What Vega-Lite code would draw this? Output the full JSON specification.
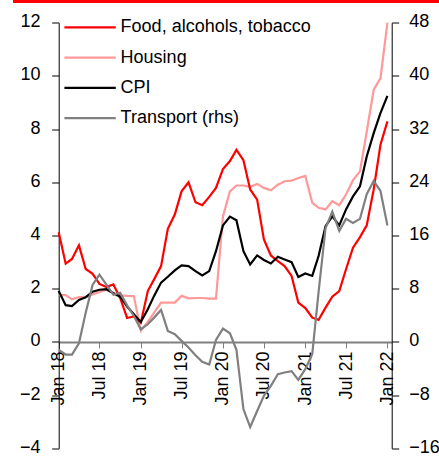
{
  "$schema": "https://vega.github.io/schema/vega-lite/v6.json",
  "autosize": "none",
  "padding": {"left": 13, "top": 1.5, "right": 0, "bottom": 8.7},
  "width": 426,
  "height": 446.8,
  "config": {
    "view": {"stroke": "#ff0000", "strokeWidth": 3, "strokeDash": [426, 5000], "fill": null},
    "font": "Liberation Sans",
    "axis": {"labelFont": "Liberation Sans", "labelColor": "#000000", "labelFontSize": 18}
  },
  "data": {"values": [
    {"date": "2018-01-01", "series": "Food, alcohols, tobacco", "value": 4.12},
    {"date": "2018-02-01", "series": "Food, alcohols, tobacco", "value": 2.94},
    {"date": "2018-03-01", "series": "Food, alcohols, tobacco", "value": 3.12},
    {"date": "2018-04-01", "series": "Food, alcohols, tobacco", "value": 3.63},
    {"date": "2018-05-01", "series": "Food, alcohols, tobacco", "value": 2.74},
    {"date": "2018-06-01", "series": "Food, alcohols, tobacco", "value": 2.56},
    {"date": "2018-07-01", "series": "Food, alcohols, tobacco", "value": 2.18},
    {"date": "2018-08-01", "series": "Food, alcohols, tobacco", "value": 2.06},
    {"date": "2018-09-01", "series": "Food, alcohols, tobacco", "value": 2.16},
    {"date": "2018-10-01", "series": "Food, alcohols, tobacco", "value": 1.65},
    {"date": "2018-11-01", "series": "Food, alcohols, tobacco", "value": 0.9},
    {"date": "2018-12-01", "series": "Food, alcohols, tobacco", "value": 0.96},
    {"date": "2019-01-01", "series": "Food, alcohols, tobacco", "value": 0.72},
    {"date": "2019-02-01", "series": "Food, alcohols, tobacco", "value": 1.91},
    {"date": "2019-03-01", "series": "Food, alcohols, tobacco", "value": 2.35},
    {"date": "2019-04-01", "series": "Food, alcohols, tobacco", "value": 2.85},
    {"date": "2019-05-01", "series": "Food, alcohols, tobacco", "value": 4.25},
    {"date": "2019-06-01", "series": "Food, alcohols, tobacco", "value": 4.79},
    {"date": "2019-07-01", "series": "Food, alcohols, tobacco", "value": 5.66},
    {"date": "2019-08-01", "series": "Food, alcohols, tobacco", "value": 6.0},
    {"date": "2019-09-01", "series": "Food, alcohols, tobacco", "value": 5.25},
    {"date": "2019-10-01", "series": "Food, alcohols, tobacco", "value": 5.14},
    {"date": "2019-11-01", "series": "Food, alcohols, tobacco", "value": 5.45},
    {"date": "2019-12-01", "series": "Food, alcohols, tobacco", "value": 5.79},
    {"date": "2020-01-01", "series": "Food, alcohols, tobacco", "value": 6.5},
    {"date": "2020-02-01", "series": "Food, alcohols, tobacco", "value": 6.8},
    {"date": "2020-03-01", "series": "Food, alcohols, tobacco", "value": 7.22},
    {"date": "2020-04-01", "series": "Food, alcohols, tobacco", "value": 6.83},
    {"date": "2020-05-01", "series": "Food, alcohols, tobacco", "value": 5.73},
    {"date": "2020-06-01", "series": "Food, alcohols, tobacco", "value": 5.35},
    {"date": "2020-07-01", "series": "Food, alcohols, tobacco", "value": 3.85},
    {"date": "2020-08-01", "series": "Food, alcohols, tobacco", "value": 3.25},
    {"date": "2020-09-01", "series": "Food, alcohols, tobacco", "value": 3.04},
    {"date": "2020-10-01", "series": "Food, alcohols, tobacco", "value": 2.85},
    {"date": "2020-11-01", "series": "Food, alcohols, tobacco", "value": 2.48},
    {"date": "2020-12-01", "series": "Food, alcohols, tobacco", "value": 1.48},
    {"date": "2021-01-01", "series": "Food, alcohols, tobacco", "value": 1.27},
    {"date": "2021-02-01", "series": "Food, alcohols, tobacco", "value": 0.91},
    {"date": "2021-03-01", "series": "Food, alcohols, tobacco", "value": 0.83},
    {"date": "2021-04-01", "series": "Food, alcohols, tobacco", "value": 1.29},
    {"date": "2021-05-01", "series": "Food, alcohols, tobacco", "value": 1.7},
    {"date": "2021-06-01", "series": "Food, alcohols, tobacco", "value": 1.91},
    {"date": "2021-07-01", "series": "Food, alcohols, tobacco", "value": 2.73},
    {"date": "2021-08-01", "series": "Food, alcohols, tobacco", "value": 3.54},
    {"date": "2021-09-01", "series": "Food, alcohols, tobacco", "value": 3.94},
    {"date": "2021-10-01", "series": "Food, alcohols, tobacco", "value": 4.38},
    {"date": "2021-11-01", "series": "Food, alcohols, tobacco", "value": 5.73},
    {"date": "2021-12-01", "series": "Food, alcohols, tobacco", "value": 7.41},
    {"date": "2022-01-01", "series": "Food, alcohols, tobacco", "value": 8.29},
    {"date": "2018-01-01", "series": "Housing", "value": 1.76},
    {"date": "2018-02-01", "series": "Housing", "value": 1.76},
    {"date": "2018-03-01", "series": "Housing", "value": 1.6},
    {"date": "2018-04-01", "series": "Housing", "value": 1.68},
    {"date": "2018-05-01", "series": "Housing", "value": 1.68},
    {"date": "2018-06-01", "series": "Housing", "value": 1.78},
    {"date": "2018-07-01", "series": "Housing", "value": 1.88},
    {"date": "2018-08-01", "series": "Housing", "value": 1.96},
    {"date": "2018-09-01", "series": "Housing", "value": 1.85},
    {"date": "2018-10-01", "series": "Housing", "value": 1.75},
    {"date": "2018-11-01", "series": "Housing", "value": 1.73},
    {"date": "2018-12-01", "series": "Housing", "value": 1.72},
    {"date": "2019-01-01", "series": "Housing", "value": 0.42},
    {"date": "2019-02-01", "series": "Housing", "value": 0.75},
    {"date": "2019-03-01", "series": "Housing", "value": 1.1},
    {"date": "2019-04-01", "series": "Housing", "value": 1.48},
    {"date": "2019-05-01", "series": "Housing", "value": 1.48},
    {"date": "2019-06-01", "series": "Housing", "value": 1.48},
    {"date": "2019-07-01", "series": "Housing", "value": 1.73},
    {"date": "2019-08-01", "series": "Housing", "value": 1.64},
    {"date": "2019-09-01", "series": "Housing", "value": 1.65},
    {"date": "2019-10-01", "series": "Housing", "value": 1.65},
    {"date": "2019-11-01", "series": "Housing", "value": 1.63},
    {"date": "2019-12-01", "series": "Housing", "value": 1.63},
    {"date": "2020-01-01", "series": "Housing", "value": 4.72},
    {"date": "2020-02-01", "series": "Housing", "value": 5.66},
    {"date": "2020-03-01", "series": "Housing", "value": 5.88},
    {"date": "2020-04-01", "series": "Housing", "value": 5.88},
    {"date": "2020-05-01", "series": "Housing", "value": 5.83},
    {"date": "2020-06-01", "series": "Housing", "value": 5.94},
    {"date": "2020-07-01", "series": "Housing", "value": 5.79},
    {"date": "2020-08-01", "series": "Housing", "value": 5.7},
    {"date": "2020-09-01", "series": "Housing", "value": 5.91},
    {"date": "2020-10-01", "series": "Housing", "value": 6.04},
    {"date": "2020-11-01", "series": "Housing", "value": 6.06},
    {"date": "2020-12-01", "series": "Housing", "value": 6.16},
    {"date": "2021-01-01", "series": "Housing", "value": 6.24},
    {"date": "2021-02-01", "series": "Housing", "value": 5.23},
    {"date": "2021-03-01", "series": "Housing", "value": 5.04},
    {"date": "2021-04-01", "series": "Housing", "value": 4.98},
    {"date": "2021-05-01", "series": "Housing", "value": 5.29},
    {"date": "2021-06-01", "series": "Housing", "value": 5.14},
    {"date": "2021-07-01", "series": "Housing", "value": 5.54},
    {"date": "2021-08-01", "series": "Housing", "value": 6.08},
    {"date": "2021-09-01", "series": "Housing", "value": 6.41},
    {"date": "2021-10-01", "series": "Housing", "value": 7.9},
    {"date": "2021-11-01", "series": "Housing", "value": 9.48},
    {"date": "2021-12-01", "series": "Housing", "value": 9.91},
    {"date": "2022-01-01", "series": "Housing", "value": 12.0},
    {"date": "2018-01-01", "series": "CPI", "value": 1.91},
    {"date": "2018-02-01", "series": "CPI", "value": 1.38},
    {"date": "2018-03-01", "series": "CPI", "value": 1.35},
    {"date": "2018-04-01", "series": "CPI", "value": 1.58},
    {"date": "2018-05-01", "series": "CPI", "value": 1.68},
    {"date": "2018-06-01", "series": "CPI", "value": 1.89},
    {"date": "2018-07-01", "series": "CPI", "value": 1.96},
    {"date": "2018-08-01", "series": "CPI", "value": 1.98},
    {"date": "2018-09-01", "series": "CPI", "value": 1.83},
    {"date": "2018-10-01", "series": "CPI", "value": 1.7},
    {"date": "2018-11-01", "series": "CPI", "value": 1.33},
    {"date": "2018-12-01", "series": "CPI", "value": 1.04},
    {"date": "2019-01-01", "series": "CPI", "value": 0.75},
    {"date": "2019-02-01", "series": "CPI", "value": 1.23},
    {"date": "2019-03-01", "series": "CPI", "value": 1.73},
    {"date": "2019-04-01", "series": "CPI", "value": 2.23},
    {"date": "2019-05-01", "series": "CPI", "value": 2.45},
    {"date": "2019-06-01", "series": "CPI", "value": 2.69},
    {"date": "2019-07-01", "series": "CPI", "value": 2.88},
    {"date": "2019-08-01", "series": "CPI", "value": 2.85},
    {"date": "2019-09-01", "series": "CPI", "value": 2.66},
    {"date": "2019-10-01", "series": "CPI", "value": 2.5},
    {"date": "2019-11-01", "series": "CPI", "value": 2.66},
    {"date": "2019-12-01", "series": "CPI", "value": 3.41},
    {"date": "2020-01-01", "series": "CPI", "value": 4.38},
    {"date": "2020-02-01", "series": "CPI", "value": 4.71},
    {"date": "2020-03-01", "series": "CPI", "value": 4.57},
    {"date": "2020-04-01", "series": "CPI", "value": 3.41},
    {"date": "2020-05-01", "series": "CPI", "value": 2.91},
    {"date": "2020-06-01", "series": "CPI", "value": 3.25},
    {"date": "2020-07-01", "series": "CPI", "value": 3.08},
    {"date": "2020-08-01", "series": "CPI", "value": 2.95},
    {"date": "2020-09-01", "series": "CPI", "value": 3.2},
    {"date": "2020-10-01", "series": "CPI", "value": 3.1},
    {"date": "2020-11-01", "series": "CPI", "value": 3.0},
    {"date": "2020-12-01", "series": "CPI", "value": 2.44},
    {"date": "2021-01-01", "series": "CPI", "value": 2.57},
    {"date": "2021-02-01", "series": "CPI", "value": 2.48},
    {"date": "2021-03-01", "series": "CPI", "value": 3.23},
    {"date": "2021-04-01", "series": "CPI", "value": 4.35},
    {"date": "2021-05-01", "series": "CPI", "value": 4.72},
    {"date": "2021-06-01", "series": "CPI", "value": 4.38},
    {"date": "2021-07-01", "series": "CPI", "value": 4.98},
    {"date": "2021-08-01", "series": "CPI", "value": 5.47},
    {"date": "2021-09-01", "series": "CPI", "value": 5.85},
    {"date": "2021-10-01", "series": "CPI", "value": 6.97},
    {"date": "2021-11-01", "series": "CPI", "value": 7.85},
    {"date": "2021-12-01", "series": "CPI", "value": 8.6},
    {"date": "2022-01-01", "series": "CPI", "value": 9.25},
    {"date": "2018-01-01", "series": "Transport (rhs)", "value": -1.2},
    {"date": "2018-02-01", "series": "Transport (rhs)", "value": -1.9},
    {"date": "2018-03-01", "series": "Transport (rhs)", "value": -1.9},
    {"date": "2018-04-01", "series": "Transport (rhs)", "value": -0.2},
    {"date": "2018-05-01", "series": "Transport (rhs)", "value": 4.4},
    {"date": "2018-06-01", "series": "Transport (rhs)", "value": 8.6},
    {"date": "2018-07-01", "series": "Transport (rhs)", "value": 10.1},
    {"date": "2018-08-01", "series": "Transport (rhs)", "value": 8.6},
    {"date": "2018-09-01", "series": "Transport (rhs)", "value": 7.1},
    {"date": "2018-10-01", "series": "Transport (rhs)", "value": 7.4},
    {"date": "2018-11-01", "series": "Transport (rhs)", "value": 5.5},
    {"date": "2018-12-01", "series": "Transport (rhs)", "value": 3.9},
    {"date": "2019-01-01", "series": "Transport (rhs)", "value": 1.9},
    {"date": "2019-02-01", "series": "Transport (rhs)", "value": 2.65},
    {"date": "2019-03-01", "series": "Transport (rhs)", "value": 3.65},
    {"date": "2019-04-01", "series": "Transport (rhs)", "value": 4.8},
    {"date": "2019-05-01", "series": "Transport (rhs)", "value": 1.65},
    {"date": "2019-06-01", "series": "Transport (rhs)", "value": 1.15},
    {"date": "2019-07-01", "series": "Transport (rhs)", "value": 0.15},
    {"date": "2019-08-01", "series": "Transport (rhs)", "value": -0.85},
    {"date": "2019-09-01", "series": "Transport (rhs)", "value": -2.0},
    {"date": "2019-10-01", "series": "Transport (rhs)", "value": -3.0},
    {"date": "2019-11-01", "series": "Transport (rhs)", "value": -3.4},
    {"date": "2019-12-01", "series": "Transport (rhs)", "value": 0.3},
    {"date": "2020-01-01", "series": "Transport (rhs)", "value": 2.0},
    {"date": "2020-02-01", "series": "Transport (rhs)", "value": 1.3},
    {"date": "2020-03-01", "series": "Transport (rhs)", "value": -1.2},
    {"date": "2020-04-01", "series": "Transport (rhs)", "value": -10.1},
    {"date": "2020-05-01", "series": "Transport (rhs)", "value": -12.8},
    {"date": "2020-06-01", "series": "Transport (rhs)", "value": -10.4},
    {"date": "2020-07-01", "series": "Transport (rhs)", "value": -8.1},
    {"date": "2020-08-01", "series": "Transport (rhs)", "value": -6.6},
    {"date": "2020-09-01", "series": "Transport (rhs)", "value": -4.85},
    {"date": "2020-10-01", "series": "Transport (rhs)", "value": -4.6},
    {"date": "2020-11-01", "series": "Transport (rhs)", "value": -4.4},
    {"date": "2020-12-01", "series": "Transport (rhs)", "value": -5.7},
    {"date": "2021-01-01", "series": "Transport (rhs)", "value": -4.1},
    {"date": "2021-02-01", "series": "Transport (rhs)", "value": -1.8},
    {"date": "2021-03-01", "series": "Transport (rhs)", "value": 7.5},
    {"date": "2021-04-01", "series": "Transport (rhs)", "value": 17.1},
    {"date": "2021-05-01", "series": "Transport (rhs)", "value": 19.6},
    {"date": "2021-06-01", "series": "Transport (rhs)", "value": 16.7},
    {"date": "2021-07-01", "series": "Transport (rhs)", "value": 18.5},
    {"date": "2021-08-01", "series": "Transport (rhs)", "value": 17.9},
    {"date": "2021-09-01", "series": "Transport (rhs)", "value": 18.5},
    {"date": "2021-10-01", "series": "Transport (rhs)", "value": 22.2},
    {"date": "2021-11-01", "series": "Transport (rhs)", "value": 24.2},
    {"date": "2021-12-01", "series": "Transport (rhs)", "value": 22.7},
    {"date": "2022-01-01", "series": "Transport (rhs)", "value": 17.5}
  ]},
  "encoding": {
    "x": {
      "field": "date",
      "type": "temporal",
      "scale": {
        "type": "utc",
        "domain": [{"year": 2018, "month": 1, "date": 1, "utc": true}, {"year": 2022, "month": 1, "date": 20, "utc": true}],
        "range": [45.7, 378.7]
      },
      "axis": {
        "title": null,
        "format": "%b %y",
        "tickCount": {"interval": "month", "step": 6},
        "labelAngle": -90,
        "labelAlign": "right",
        "labelBaseline": "middle",
        "grid": false,
        "offset": -106.4,
        "domainColor": "#808080",
        "domainWidth": 2,
        "tickColor": "#808080",
        "tickSize": 6,
        "labelPadding": 3,
        "labelFontSize": 18,
        "labelOverlap": false,
        "labelBound": false,
        "labelFlush": false
      }
    },
    "color": {
      "field": "series",
      "type": "nominal",
      "scale": {
        "domain": ["Food, alcohols, tobacco", "Housing", "CPI", "Transport (rhs)"],
        "range": ["#ff0000", "#ff9999", "#000000", "#808080"]
      },
      "legend": {
        "title": null,
        "orient": "none",
        "legendX": 50.1,
        "legendY": 15.8,
        "direction": "vertical",
        "symbolType": "stroke",
        "symbolSize": 2640,
        "symbolStrokeWidth": 2.2,
        "labelFont": "Liberation Sans",
        "labelFontSize": 18,
        "labelColor": "#000000",
        "labelOffset": 3.5,
        "labelLimit": 400,
        "clipHeight": 20,
        "rowPadding": 10.3,
        "padding": 0
      }
    }
  },
  "layer": [
    {
      "encoding": {
        "y": {
          "field": "value",
          "type": "quantitative",
          "scale": {"domain": [-4, 12], "nice": false, "zero": false, "range": [446.8, 21.2]},
          "axis": {
            "orient": "left",
            "title": null,
            "offset": -45.7,
            "values": [-4, -2, 0, 2, 4, 6, 8, 10, 12],
            "grid": false,
            "domainColor": "#000000",
            "tickColor": "#000000",
            "tickSize": 7,
            "labelPadding": 11.7,
            "labelOffset": -1,
            "labelFontSize": 18
          }
        }
      },
      "layer": [
        {"transform": [{"filter": "datum.series === 'Housing'"}], "mark": {"type": "line", "strokeWidth": 2.2}},
        {"transform": [{"filter": "datum.series === 'Food, alcohols, tobacco'"}], "mark": {"type": "line", "strokeWidth": 2.2}},
        {"transform": [{"filter": "datum.series === 'CPI'"}], "mark": {"type": "line", "strokeWidth": 2.2}}
      ]
    },
    {
      "transform": [{"filter": "datum.series === 'Transport (rhs)'"}],
      "mark": {"type": "line", "strokeWidth": 2.2},
      "encoding": {
        "y": {
          "field": "value",
          "type": "quantitative",
          "scale": {"domain": [-16, 48], "nice": false, "zero": false, "range": [446.8, 21.2]},
          "axis": {
            "orient": "right",
            "title": null,
            "offset": -47.3,
            "values": [-16, -8, 0, 8, 16, 24, 32, 40, 48],
            "grid": false,
            "domainColor": "#000000",
            "tickColor": "#000000",
            "tickSize": 7,
            "labelPadding": 10,
            "labelOffset": -1,
            "labelFontSize": 18
          }
        }
      }
    }
  ],
  "resolve": {"scale": {"y": "independent"}}
}
